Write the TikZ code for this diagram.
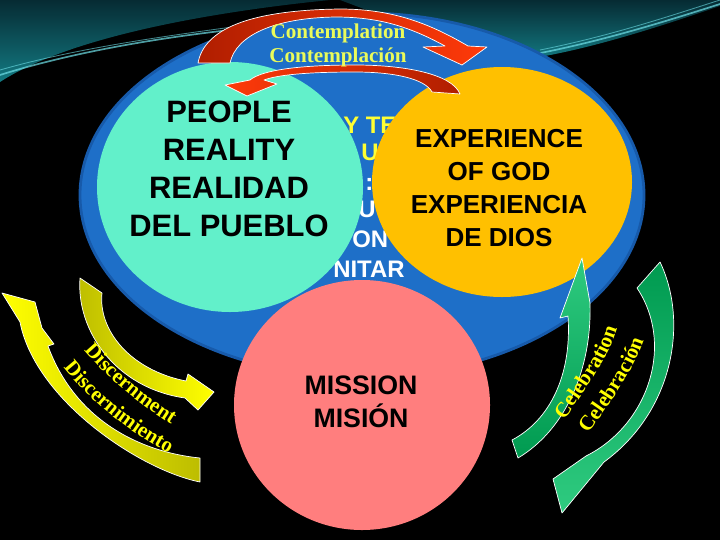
\documentclass[tikz,border=0pt]{standalone}
\usepackage{fontspec}
\setmainfont{Liberation Sans}
\newfontfamily\antiqua{Liberation Serif}
\usetikzlibrary{decorations.text}

\definecolor{bgdark}{HTML}{062B33}
\definecolor{bgteal}{HTML}{137A82}
\definecolor{streak}{HTML}{6FE0E8}
\definecolor{ellblue}{HTML}{1E6FC8}
\definecolor{ellrim}{HTML}{175AAA}
\definecolor{peopleteal}{HTML}{62F0CA}
\definecolor{godorange}{HTML}{FFC000}
\definecolor{missionpink}{HTML}{FF7E7E}
\definecolor{contyellow}{HTML}{EAFB5A}
\definecolor{hidyellow}{HTML}{FFFF33}
\definecolor{arrowred}{HTML}{FF3A0A}
\definecolor{darkred}{HTML}{B01E00}
\definecolor{discyellow}{HTML}{FFFF00}
\definecolor{olive}{HTML}{BDBD00}
\definecolor{greendark}{HTML}{009A50}
\definecolor{greenlight}{HTML}{2FCB80}

\tikzstyle{bubbletext} = [align=center,text=black,inner sep=0pt]
\tikzstyle{hidtext} = [font=\bfseries\fontsize{17}{20}\selectfont,anchor=base west,inner sep=0pt]
\tikzstyle{verbtext} = [font=\antiqua\bfseries\fontsize{15}{18}\selectfont,text=contyellow,anchor=base,inner sep=0pt]
\tikzstyle{bandarrow} = [draw=white,line width=0.5pt,line join=round]

\begin{document}
\begin{tikzpicture}[x=0.025cm,y=-0.025cm]
\fill[black] (0,0) rectangle (720,540);
\useasboundingbox (0,0) rectangle (720,540);

% sky swooshes
\shade[top color=bgdark,bottom color=bgteal] (0,0) -- (330,0) .. controls (250,8) and (80,30) .. (0,82) -- cycle;
\shade[top color=bgdark,bottom color=bgteal] (340,0) -- (720,0) -- (720,6) .. controls (650,30) and (580,52) .. (520,60) -- (420,30) -- cycle;
\draw[streak,line width=1.2pt,opacity=0.7] (0,75) .. controls (60,56) and (140,40) .. (230,30);
\draw[streak,line width=0.6pt,opacity=0.6] (0,70) .. controls (70,50) and (150,38) .. (240,26);
\draw[streak,line width=1.2pt,opacity=0.7] (530,55) .. controls (600,42) and (670,20) .. (720,4);
\draw[streak,line width=0.6pt,opacity=0.6] (540,50) .. controls (610,36) and (670,16) .. (720,0);

\filldraw[fill=ellblue,draw=ellrim,line width=2pt] (362,195) ellipse [x radius=282,y radius=182];

\node[hidtext,text=hidyellow] (hidA) at (343,133) {Y TE};
\node[hidtext,text=hidyellow] (hidB) at (361,160) {U};
\node[hidtext,text=white] (hidC) at (365,190) {:};
\node[hidtext,text=white] (hidD) at (358,217) {U};
\node[hidtext,text=white] (hidE) at (352,247) {ON};
\node[hidtext,text=white] (hidF) at (333,277) {NITAR};

\fill[peopleteal] (230,187) ellipse [x radius=133,y radius=125];
\fill[godorange] (502,182) ellipse [x radius=130,y radius=115];
\fill[missionpink] (362,405) ellipse [x radius=128,y radius=125];

\node[bubbletext,font=\bfseries\fontsize{22}{27}\selectfont] (people) at (229,169) {PEOPLE\\REALITY\\REALIDAD\\DEL PUEBLO};
\node[bubbletext,font=\bfseries\fontsize{18.5}{23.4}\selectfont] (god) at (499,188) {EXPERIENCE\\OF GOD\\EXPERIENCIA\\DE DIOS};
\node[bubbletext,font=\bfseries\fontsize{19}{23.4}\selectfont] (mission) at (361,402) {MISSION\\MISIÓN};

% contemplation
\shadedraw[bandarrow,left color=darkred,right color=arrowred] (198,63) .. controls (205,25) and (260,10) .. (340,9) .. controls (395,9) and (432,25) .. (468,46) -- (487,47) -- (462,65) -- (423,47) -- (445,46) .. controls (410,27) and (380,17) .. (335,17) .. controls (275,18) and (236,35) .. (230,63) -- cycle;
\shadedraw[bandarrow,left color=arrowred,right color=darkred] (460,94) .. controls (452,74) and (405,65) .. (355,65) .. controls (300,65) and (262,70) .. (250,80) -- (225,85) -- (247,96) -- (277,84) -- (264,80) .. controls (280,74) and (315,72) .. (355,72) .. controls (395,72) and (425,79) .. (432,92) -- cycle;
\node[verbtext] (contEN) at (338,38) {Contemplation};
\node[verbtext] (contES) at (338,62) {Contemplación};

% discernment
\shadedraw[bandarrow,left color=olive,right color=discyellow] (80,278) .. controls (76,330) and (115,388) .. (185,398) -- (198,410) -- (214,392) -- (188,374) -- (186,381) .. controls (130,370) and (98,330) .. (102,293) -- cycle;
\shadedraw[bandarrow,left color=discyellow,right color=olive] (200,482) .. controls (140,470) and (35,400) .. (20,322) -- (2,293) -- (35,302) -- (42,328) -- (54,344) -- (48,346) .. controls (75,420) and (140,452) .. (200,458) -- cycle;
\path[decorate,decoration={text along path,text align=center,text color=discyellow,
  text={|\antiqua\bfseries\fontsize{15}{18}\selectfont|Discernment}}]
  (82,348) .. controls (107,378) and (137,403) .. (174,426);
\path[decorate,decoration={text along path,text align=center,text color=discyellow,
  text={|\antiqua\bfseries\fontsize{15}{18}\selectfont|Discernimiento}}]
  (60,363) .. controls (88,400) and (129,433) .. (174,456);

% celebration
\shadedraw[bandarrow,bottom color=greendark,top color=greenlight] (518,458) .. controls (565,430) and (592,370) .. (590,303) -- (582,258) -- (560,318) -- (568,316) .. controls (572,375) and (550,420) .. (512,440) -- cycle;
\shadedraw[bandarrow,top color=greendark,bottom color=greenlight] (660,262) .. controls (688,320) and (675,410) .. (604,462) -- (562,513) -- (553,479) -- (586,456) .. controls (648,425) and (675,345) .. (637,288) -- cycle;
\path[decorate,decoration={text along path,text align=center,text color=discyellow,
  text={|\antiqua\bfseries\fontsize{15}{18}\selectfont|Celebration}}]
  (562,423) .. controls (582,395) and (608,361) .. (618,325);
\path[decorate,decoration={text along path,text align=center,text color=discyellow,
  text={|\antiqua\bfseries\fontsize{15}{18}\selectfont|Celebración}}]
  (586,437) .. controls (606,409) and (633,374) .. (645,336);
\end{tikzpicture}
\end{document}
